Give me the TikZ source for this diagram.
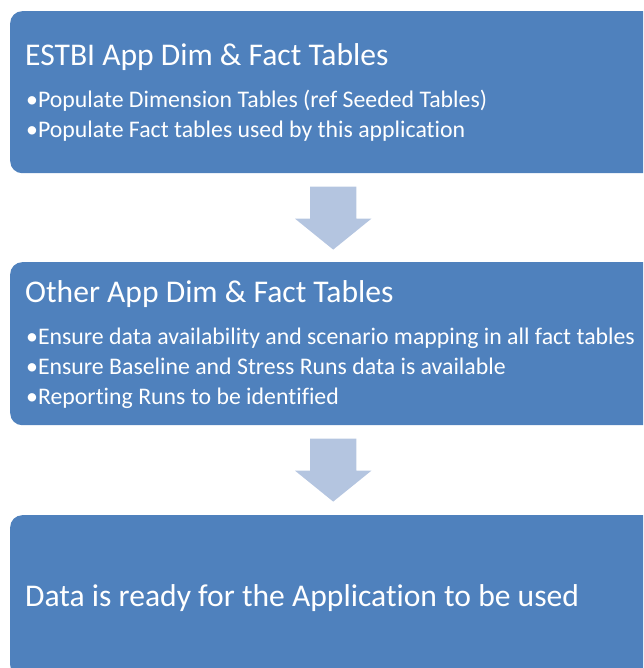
\documentclass[tikz,border=0pt]{standalone}
\usepackage{fontspec}
\setmainfont{Carlito}[Ligatures=NoCommon]
\usetikzlibrary{shapes.arrows,calc}
\definecolor{boxblue}{HTML}{4F81BD}
\definecolor{arrowblue}{HTML}{B4C5E0}
\begin{document}
\begin{tikzpicture}[x=1pt,y=-1pt,
    panel/.style={fill=boxblue,rounded corners=12pt,minimum width=646pt,anchor=north west,inner sep=0pt},
    heading/.style={text=white,font=\fontsize{31.6}{32}\selectfont,anchor=base west,inner sep=0pt},
    item/.style={text=white,font=\fontsize{23.8}{24}\selectfont,anchor=base west,inner sep=0pt},
    downarrow/.style={single arrow,fill=arrowblue,rotate=-90,anchor=tail,minimum height=63pt,inner xsep=0pt,inner ysep=23pt,
        single arrow head extend=15pt,single arrow tip angle=102}]
    \useasboundingbox (0,0) rectangle (643,668);
    \clip (0,0) rectangle (643,668);
    \node [panel,minimum height=162pt] (est) at (10,11) {};
    \node [panel,minimum height=163pt] (other) at (10,262) {};
    \node [panel,minimum height=162pt] (ready) at (10,515) {};
    \node [heading] (esttitle) at ($(est.north west)+(15,55)$) {ESTBI App Dim \& Fact Tables};
    \node [item] (estdim) at ($(est.north west)+(16,97)$) {•Populate Dimension Tables (ref Seeded Tables)};
    \node [item] (estfact) at ($(est.north west)+(16,127)$) {•Populate Fact tables used by this application};
    \node [heading] (othertitle) at ($(other.north west)+(15,40)$) {Other App Dim \& Fact Tables};
    \node [item] (otherdata) at ($(other.north west)+(16,82)$) {•Ensure data availability and scenario mapping in all fact tables};
    \node [item] (otherruns) at ($(other.north west)+(16,112)$) {•Ensure Baseline and Stress Runs data is available};
    \node [item] (otherrep) at ($(other.north west)+(16,142)$) {•Reporting Runs to be identified};
    \node [heading] (readytext) at ($(ready.north west)+(15,91)$) {Data is ready for the Application to be used};
    \node [downarrow] (step1) at ($(est.south)+(0,13)$) {};
    \node [downarrow] (step2) at ($(other.south)+(0,13)$) {};
\end{tikzpicture}
\end{document}
